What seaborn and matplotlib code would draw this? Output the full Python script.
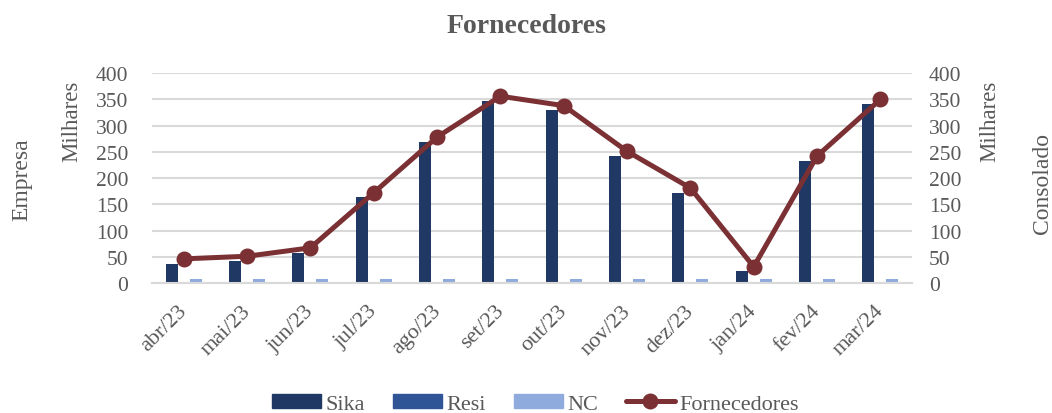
import matplotlib
matplotlib.use('Agg')
import matplotlib.pyplot as plt
import matplotlib.transforms as mtransforms
import numpy as np
import pandas as pd
import seaborn as sns
from matplotlib.patches import Patch
from matplotlib.lines import Line2D

# Data (values in thousands)
meses = ['abr/23', 'mai/23', 'jun/23', 'jul/23', 'ago/23', 'set/23',
         'out/23', 'nov/23', 'dez/23', 'jan/24', 'fev/24', 'mar/24']
sika = [37, 42, 57, 163, 269, 347, 330, 242, 172, 22, 233, 341]
resi = [0, 0, 0, 0, 0, 0, 0, 0, 0, 0, 0, 0]
nc = [7, 7, 7, 7, 7, 7, 7, 7, 7, 7, 7, 7]
fornecedores = [46, 51, 67, 172, 278, 356, 338, 251, 181, 31, 242, 350]
series = ['Sika', 'Resi', 'NC']
y_ticks = [0, 50, 100, 150, 200, 250, 300, 350, 400]

# Colours and text style
cores = {'Sika': '#1F3864', 'Resi': '#2F5597', 'NC': '#8FAADC'}
cor_linha = '#7B3034'
cor_texto = '#595959'
cor_grade = '#D9D9D9'
fonte = 'Liberation Serif'

sns.set_style('white')
plt.rcParams['font.family'] = [fonte, 'DejaVu Serif']
plt.rcParams['text.color'] = cor_texto
plt.rcParams['xtick.color'] = cor_texto
plt.rcParams['ytick.color'] = cor_texto

# Long format table for seaborn
df = pd.DataFrame({
    'mes': meses * 3,
    'serie': ['Sika'] * 12 + ['Resi'] * 12 + ['NC'] * 12,
    'valor': sika + resi + nc,
})

fig = plt.figure(figsize=(10.52, 4.14), dpi=100)
ax = fig.add_axes([0.1445, 0.314, 0.7225, 0.507])

sns.barplot(data=df, x='mes', y='valor', hue='serie', hue_order=series,
            palette=cores, width=0.57, saturation=1, errorbar=None,
            linewidth=0, legend=False, ax=ax)

ax.set_ylim(0, 400)
ax.set_xlim(-0.5, len(meses) - 0.5)
ax.set_yticks(y_ticks)
ax.yaxis.grid(True, color=cor_grade, linewidth=1.5)
ax.set_axisbelow(True)
for s in ['top', 'left', 'right']:
    ax.spines[s].set_visible(False)
ax.spines['bottom'].set_color(cor_grade)
ax.spines['bottom'].set_linewidth(1.5)
ax.set_xlabel('')
ax.set_ylabel('')

# Category boundary ticks, Excel style
ax.set_xticks(np.arange(-0.5, len(meses)), minor=True)
ax.tick_params(axis='x', which='minor', length=7, width=1.5, color=cor_grade)
ax.tick_params(axis='x', which='major', length=0, pad=13, labelsize=16)
ax.tick_params(axis='y', length=0, pad=17, labelsize=15.5)
deslocamento = mtransforms.ScaledTranslation(-6 / 100, 0, fig.dpi_scale_trans)
for lbl in ax.get_xticklabels():
    lbl.set_rotation(45)
    lbl.set_ha('right')
    lbl.set_rotation_mode('anchor')
    lbl.set_transform(lbl.get_transform() + deslocamento)

# Secondary axis with the line
ax2 = ax.twinx()
sns.lineplot(x=np.arange(len(meses)), y=fornecedores, ax=ax2, color=cor_linha,
             linewidth=3.6, marker='o', markersize=11.5, markeredgewidth=0)
ax2.set_ylim(0, 400)
ax2.set_yticks(y_ticks)
for s in ['top', 'left', 'right', 'bottom']:
    ax2.spines[s].set_visible(False)
ax2.tick_params(axis='y', length=0, pad=12, labelsize=15.5)
ax2.set_ylabel('')

# Title and axis captions
fig.text(0.5, 0.935, 'Fornecedores', ha='center', va='center',
         fontsize=20, fontweight='bold')
fig.text(0.021, 0.567, 'Empresa', rotation=90, ha='center', va='center', fontsize=17)
fig.text(0.068, 0.708, 'Milhares', rotation=90, ha='center', va='center', fontsize=16.5)
fig.text(0.941, 0.708, 'Milhares', rotation=90, ha='center', va='center', fontsize=16.5)
fig.text(0.991, 0.556, 'Consolado', rotation=90, ha='center', va='center', fontsize=17)

# Legend
handles = [Patch(color=cores[s], label=s) for s in series]
handles.append(Line2D([], [], color=cor_linha, linewidth=3.6, marker='o',
                      markersize=11.5, markeredgewidth=0, label='Fornecedores'))
fig.legend(handles=handles, loc='center', bbox_to_anchor=(0.509, 0.022), ncol=4,
           frameon=False, prop={'family': fonte, 'size': 16}, handlelength=2.2,
           handleheight=0.6, columnspacing=1.25, handletextpad=0.2)

fig.savefig('out.png', dpi=100)
